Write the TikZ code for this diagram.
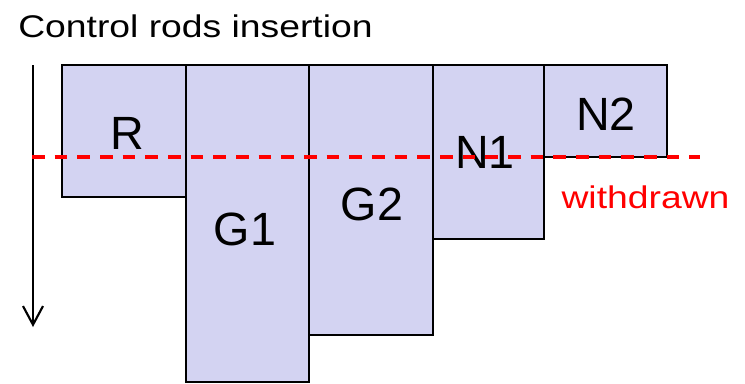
\documentclass[tikz,border=0pt]{standalone}
\usepackage{fontspec}
\setmainfont{Liberation Sans}
\newfontfamily\widefont[FakeStretch=1.19]{Liberation Sans}
\usetikzlibrary{arrows.meta}
\definecolor{rodfill}{RGB}{211,211,242}
\definecolor{wred}{RGB}{255,0,0}
\tikzset{
  rod/.style={draw=black, line width=1.3pt, fill=rodfill},
  lbl/.style={anchor=base, inner sep=0pt, font=\fontsize{35}{40}\selectfont},
  small/.style={anchor=base, inner sep=0pt, font=\widefont\fontsize{23.5}{28}\selectfont},
}
\begin{document}
\begin{tikzpicture}[x=0.75pt, y=-0.75pt]
\useasboundingbox (0,0) rectangle (745,383);
% rods
\draw[rod] (62,65) rectangle (186,197);
\draw[rod] (186,65) rectangle (309,382);
\draw[rod] (309,65) rectangle (433,335);
\draw[rod] (433,65) rectangle (544,239);
\draw[rod] (544,65) rectangle (667,157);
% labels
\node[lbl] (r) at (127,149) {R};
\node[lbl] (g1) at (245,245) {G1};
\node[lbl] (g2) at (372,220) {G2};
\node[lbl] (n1) at (485,168) {N1};
\node[lbl] (n2) at (606,130) {N2};
% title
\node[small, anchor=base west] (title) at (18,37) {Control rods insertion};
% arrow
\coordinate (a0) at (33,65);
\coordinate (a1) at (33,327);
\draw[line width=1.6pt, -{Straight Barb[length=14pt, width=15pt, line width=1.6pt]}] (a0) -- (a1);
% withdrawn line
\coordinate (w0) at (32,157);
\coordinate (w1) at (700,157);
\draw[wred, line width=2.4pt, dash pattern=on 9.5pt off 7.5pt] (w0) -- (w1);
\node[small, text=wred] (wd) at (645.5,208) {withdrawn};
\end{tikzpicture}
\end{document}
